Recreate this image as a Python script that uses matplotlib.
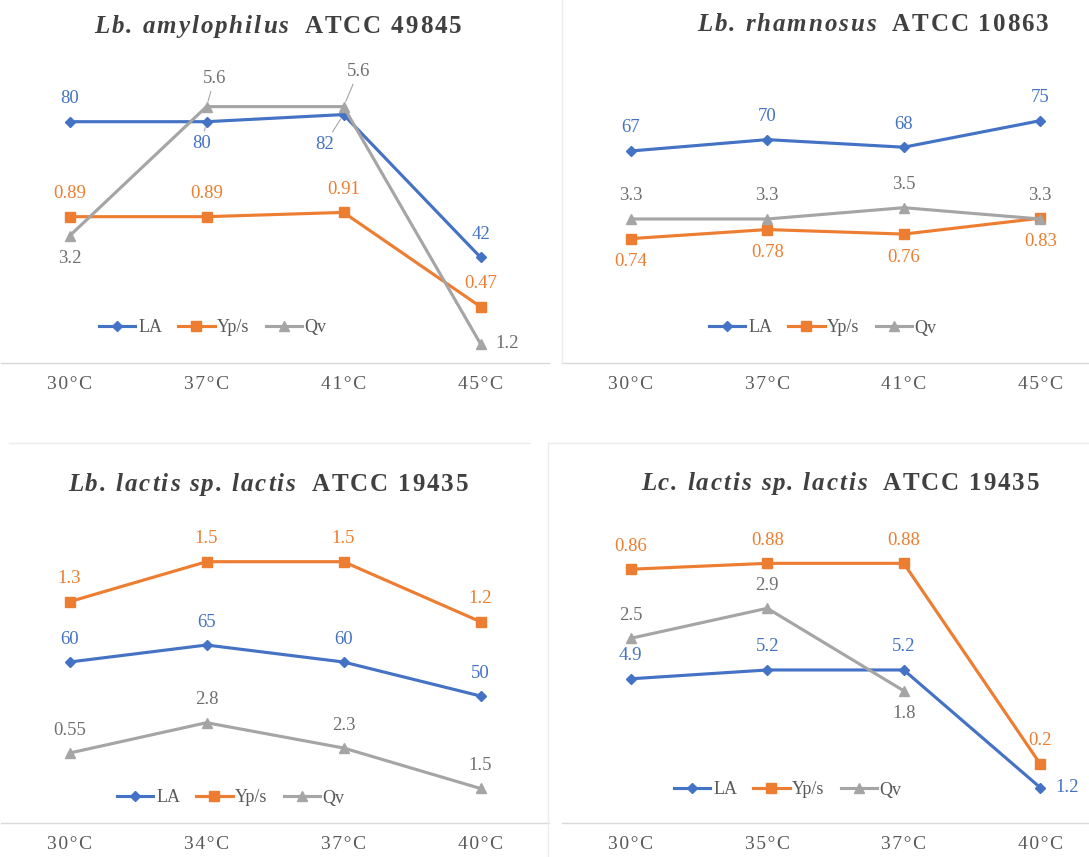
import matplotlib
matplotlib.use("Agg")
import matplotlib.pyplot as plt
import numpy as np
from matplotlib.lines import Line2D

# ---------------- data ----------------
p1_cats = ["30°C", "37°C", "41°C", "45°C"]
p1_la = [80, 80, 82, 42]
p1_yps = [0.89, 0.89, 0.91, 0.47]
p1_qv = [3.2, 5.6, 5.6, 1.2]

p2_cats = ["30°C", "37°C", "41°C", "45°C"]
p2_la = [67, 70, 68, 75]
p2_yps = [0.74, 0.78, 0.76, 0.83]
p2_qv = [3.3, 3.3, 3.5, 3.3]

p3_cats = ["30°C", "34°C", "37°C", "40°C"]
p3_la = [60, 65, 60, 50]
p3_yps = [1.3, 1.5, 1.5, 1.2]
p3_qv = [2.2, 2.8, 2.3, 1.5]            # plotted positions as drawn
p3_qv_labels = ["0.55", "2.8", "2.3", "1.5"]  # label texts as printed

p4_cats = ["30°C", "35°C", "37°C", "40°C"]
p4_la = [4.9, 5.2, 5.2, 1.2]
p4_yps = [0.86, 0.88, 0.88, 0.2]
p4_qv = [2.5, 2.9, 1.8, np.nan]

series_names = ["LA", "Yp/s", "Qv"]

# ---------------- style ----------------
W, H, DPI = 1089, 857, 100
PX = 72.0 / DPI
SERIF = "Liberation Serif"
line_colors = {"LA": "#4472C4", "Yp/s": "#ED7D31", "Qv": "#A5A5A5"}
text_colors = {"LA": "#4472C4", "Yp/s": "#ED7D31", "Qv": "#707070"}
marker_style = {"LA": ("D", 5.5), "Yp/s": ("s", 7.5), "Qv": ("^", 7.5)}

fig = plt.figure(figsize=(W / DPI, H / DPI), dpi=DPI)
fig.patch.set_facecolor("white")


def rect(left, top, width, bottom):
    return [left / W, 1 - bottom / H, width / W, (bottom - top) / H]


def fmt(v):
    return "{:g}".format(v)


def spread(s):
    return "\u200a".join(s)


def draw_panel(r, cats, data, ylims, places, legend_center):
    base = fig.add_axes(r)
    axes = [base, base.twinx(), base.twinx()]
    x = np.arange(len(cats))
    for ax, name, (vals, texts), yl, pl in zip(axes, series_names, data, ylims, places):
        ax.set_xlim(-0.5, len(cats) - 0.5)
        ax.set_ylim(*yl)
        ax.patch.set_visible(False)
        for s in ax.spines.values():
            s.set_visible(False)
        ax.set_yticks([])
        m, ms = marker_style[name]
        ax.plot(x, vals, color=line_colors[name], lw=2.25, marker=m, ms=ms,
                clip_on=False, solid_joinstyle="round", zorder=3)
        for i, v in enumerate(vals):
            if v is None or (isinstance(v, float) and np.isnan(v)):
                continue
            t = texts[i] if texts is not None else fmt(v)
            p = pl[i]
            leader = False
            if p == "a":
                dx, dy = 0, -23
            elif p == "b":
                dx, dy = 0, 23
            elif p == "r":
                dx, dy = 27, 0
            else:
                dx, dy, leader = p
            kw = {}
            if leader:
                kw["arrowprops"] = dict(arrowstyle="-", color="#A6A6A6", lw=0.8,
                                        shrinkA=1, shrinkB=4)
            ax.annotate(t, (x[i], v), xytext=(dx * PX, -dy * PX), textcoords="offset points",
                        ha="center", va="center", fontsize=13.5, family=SERIF,
                        color=text_colors[name], annotation_clip=False, **kw)
    base.spines["bottom"].set_visible(True)
    base.spines["bottom"].set_color("#D9D9D9")
    base.spines["bottom"].set_linewidth(1.0)
    base.set_xticks(x)
    base.set_xticklabels([spread(c) for c in cats], fontsize=14, color="#595959",
                         family=[SERIF, "DejaVu Serif"])
    base.tick_params(axis="x", length=0, pad=9)
    handles = []
    for name in series_names:
        m, ms = marker_style[name]
        handles.append(Line2D([], [], color=line_colors[name], lw=2.25, marker=m, ms=ms))
    fig.legend(handles, series_names, loc="center",
               bbox_to_anchor=(legend_center[0] / W, 1 - legend_center[1] / H),
               ncol=3, frameon=False, prop={"family": SERIF, "size": 13},
               labelcolor="#595959", handlelength=2.0, handletextpad=0.15,
               columnspacing=0.9)


def spaced_title(cx, baseline, parts, size, target_width):
    rend = fig.canvas.get_renderer()
    em = size / 72 * DPI
    items = []
    for k, (s, style) in enumerate(parts):
        if k > 0:
            items.append((None, em * 0.5))  # wider gap between name and strain code
        for ch in s:
            if ch == " ":
                items.append((None, em * 0.25))
                continue
            t = fig.text(0, 1 - baseline / H, ch, fontsize=size, family=SERIF,
                         weight="bold", style=style, color="#404040",
                         ha="left", va="baseline")
            items.append((t, t.get_window_extent(rend).width))
    raw = sum(w for _, w in items)
    track = (target_width - raw) / (len(items) - 1)
    xpos = cx - target_width / 2
    for t, w in items:
        if t is not None:
            t.set_x(xpos / W)
        xpos += w + track


# faint chart-area borders
for (x0, y0, x1, y1) in [(562, 0, 562, 363), (9, 443, 530, 443),
                         (548, 443, 1089, 443), (548, 443, 548, 857)]:
    fig.add_artist(Line2D([x0 / W, x1 / W], [1 - y0 / H, 1 - y1 / H],
                          transform=fig.transFigure, color="#EDEDED", lw=1))

# Panel 1
draw_panel(rect(1, 60, 548, 363.3), p1_cats,
           [(p1_la, None), (p1_yps, None), (p1_qv, None)],
           [(12.29, 97.29), (0.206, 1.621), (0.838, 6.465)],
           [["a", (-5, 22, True), (-19, 30, True), "a"],
            ["a", "a", "a", "a"],
            ["b", (8, -28, True), (15, -35, True), "r"]],
           (213, 327.7))
# Panel 2
draw_panel(rect(562.5, 60, 546, 363.3), p2_cats,
           [(p2_la, None), (p2_yps, None), (p2_qv, None)],
           [(10.98, 91.01), (0.190, 1.528), (0.746, 6.114)],
           [["a"] * 4, ["b"] * 4, ["a"] * 4],
           (823, 328))
# Panel 3
draw_panel(rect(1, 500, 548, 823.3), p3_cats,
           [(p3_la, None), (p3_yps, None), (p3_qv, p3_qv_labels)],
           [(12.56, 107.65), (0.192, 1.8085), (0.812, 7.201)],
           [["a"] * 4, ["a"] * 4, ["a"] * 4],
           (231, 798))
# Panel 4
draw_panel(rect(562.5, 500, 546, 823.3), p4_cats,
           [(p4_la, None), (p4_yps, None), (p4_qv, None)],
           [(-0.014, 10.98), (-0.001, 1.0946), (0.033, 4.344)],
           [["a", "a", "a", "r"], ["a"] * 4, ["a", "a", "b", "a"]],
           (788, 790))

spaced_title(278, 33, [("Lb. amylophilus", "italic"), ("ATCC 49845", "normal")], 18, 367)
spaced_title(873, 31, [("Lb. rhamnosus", "italic"), ("ATCC 10863", "normal")], 18, 351)
spaced_title(268, 491, [("Lb. lactis sp. lactis", "italic"), ("ATCC 19435", "normal")], 18, 400)
spaced_title(840, 490, [("Lc. lactis sp. lactis", "italic"), ("ATCC 19435", "normal")], 18, 398)

fig.savefig("out.png", dpi=DPI, facecolor="white")
